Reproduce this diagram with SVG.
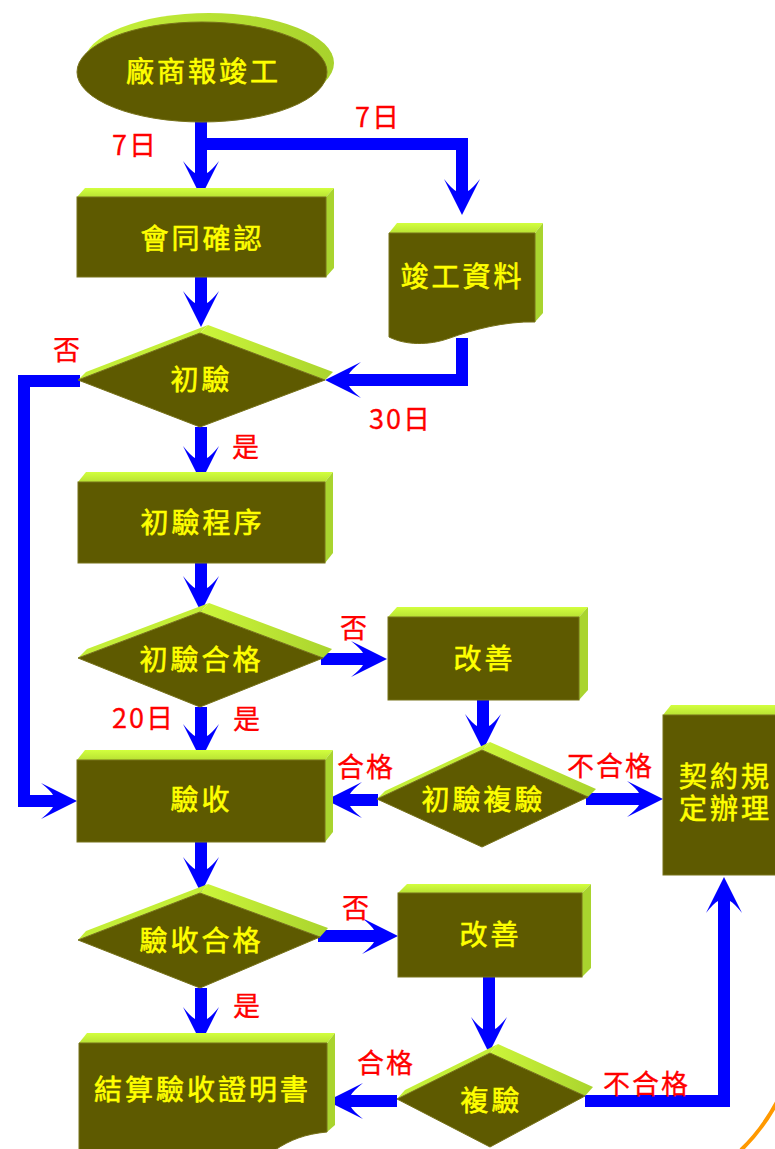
<svg xmlns="http://www.w3.org/2000/svg" width="775" height="1149" viewBox="0 0 775 1149">
<style>
.front{fill:#5E5A00;stroke:#77721A;stroke-width:1}
.top{fill:url(#gTop)}
.side{fill:#A9D42E}
.dtl{fill:#C4EE38}
.dtr{fill:url(#gTR)}
.t{font-family:"Noto Sans CJK TC","Noto Sans CJK SC",sans-serif;font-size:28px;font-weight:400;letter-spacing:3px;fill:#FFFF00;stroke:#FFFF00;stroke-width:0.6px;text-anchor:middle}
.r{font-family:"Noto Sans CJK TC","Noto Sans CJK SC",sans-serif;font-size:27px;font-weight:400;letter-spacing:2px;fill:#FF0000;stroke:#FF0000;stroke-width:0.3px}
.c{fill:none;stroke:#0000FF;stroke-width:12;stroke-linejoin:miter;marker-end:url(#ah)}
</style>
<defs>
<linearGradient id="gTop" x1="0" y1="0" x2="0" y2="1">
<stop offset="0" stop-color="#D2FF3E"/>
<stop offset="1" stop-color="#B9E233"/>
</linearGradient>
<linearGradient id="gTR" x1="0" y1="0" x2="1" y2="0">
<stop offset="0" stop-color="#CCF53A"/>
<stop offset="1" stop-color="#AAD42E"/>
</linearGradient>
<linearGradient id="gEl" x1="0" y1="0" x2="1" y2="0">
<stop offset="0" stop-color="#C8F23A"/>
<stop offset="1" stop-color="#A8D22C"/>
</linearGradient>
<marker id="ah" markerUnits="userSpaceOnUse" viewBox="0 -20 40 40" markerWidth="40" markerHeight="40" refX="14" refY="0" orient="auto">
<path d="M36,0 L0,-18 Q10,-10 12,-6 L12,6 Q10,10 0,18 Z" fill="#0000FF"/>
</marker>
</defs>

<g id="connectors">
<path class="c" d="M201,105 V175"/>
<path class="c" d="M195,144 H462 V193"/>
<path class="c" d="M201,277 V305"/>
<path class="c" d="M462,338 V380 H347"/>
<path class="c" d="M80,381 H24 V801 H55"/>
<path class="c" d="M201,427 V460"/>
<path class="c" d="M201,563 V590"/>
<path class="c" d="M321,659 H365"/>
<path class="c" d="M201,707 V738"/>
<path class="c" d="M483,700 V728"/>
<path class="c" d="M378,800 H348"/>
<path class="c" d="M586,799 H641"/>
<path class="c" d="M201,842 V871"/>
<path class="c" d="M318,936 H376"/>
<path class="c" d="M201,988 V1021"/>
<path class="c" d="M489,977 V1031"/>
<path class="c" d="M397,1101 H349"/>
<path class="c" d="M585,1101 H724 V899"/>
</g>

<g id="n_start">
<ellipse cx="209" cy="63" rx="125" ry="50" fill="url(#gEl)"/>
<ellipse cx="202" cy="72" rx="125" ry="50" class="front"/>
<text class="t" x="203.5" y="82">廠商報竣工</text>
</g>

<g id="n_confirm">
<polygon class="top" points="77,197 85,188 334,188 326,197"/>
<polygon class="side" points="326,197 334,188 334,268 326,277"/>
<rect class="front" x="77" y="197" width="249" height="80"/>
<text class="t" x="202.5" y="249">會同確認</text>
</g>

<g id="n_docs">
<polygon class="top" points="389,233 397,223 543,223 535,233"/>
<polygon class="side" points="535,233 543,223 543,313 535,322"/>
<path class="front" d="M389,233 H535 V322 C505,321 472,330 450,338 C428,346 405,345 389,337 Z"/>
<text class="t" x="462.5" y="287">竣工資料</text>
</g>

<g id="n_inspect">
<polygon class="dtl" points="78,380 200,333 208,325 86,372"/>
<polygon class="dtr" points="200,333 325,380 333,372 208,325"/>
<polygon class="front" points="78,380 200,333 325,380 200,427"/>
<text class="t" x="201.5" y="390">初驗</text>
</g>

<g id="n_procedure">
<polygon class="top" points="78,482 86,472 333,472 325,482"/>
<polygon class="side" points="325,482 333,472 333,553 325,563"/>
<rect class="front" x="78" y="482" width="247" height="81"/>
<text class="t" x="202.5" y="533">初驗程序</text>
</g>

<g id="n_pass1">
<polygon class="dtl" points="78,658 200,612 209,603 87,649"/>
<polygon class="dtr" points="200,612 323,658 332,649 209,603"/>
<polygon class="front" points="78,658 200,612 323,658 200,707"/>
<text class="t" x="201.5" y="670">初驗合格</text>
</g>

<g id="n_improve1">
<polygon class="top" points="388,617 397,607 588,607 579,617"/>
<polygon class="side" points="579,617 588,607 588,690 579,700"/>
<rect class="front" x="388" y="617" width="191" height="83"/>
<text class="t" x="484.5" y="669">改善</text>
</g>

<g id="n_reinspect1">
<polygon class="dtl" points="377,799 482,750 490,742 385,791"/>
<polygon class="dtr" points="482,750 588,797 596,789 490,742"/>
<polygon class="front" points="377,799 482,750 588,797 482,847"/>
<text class="t" x="483.5" y="810">初驗複驗</text>
</g>

<g id="n_acceptance">
<polygon class="top" points="77,760 85,750 333,750 325,760"/>
<polygon class="side" points="325,760 333,750 333,832 325,842"/>
<rect class="front" x="77" y="760" width="248" height="82"/>
<text class="t" x="201.5" y="810">驗收</text>
</g>

<g id="n_contract">
<polygon class="top" points="663,715 671,705 808,705 800,715"/>
<rect class="front" x="663" y="715" width="137" height="160"/>
<text class="t" x="725.5" y="787">契約規<tspan x="725.5" y="819">定辦理</tspan></text>
</g>

<g id="n_pass2">
<polygon class="dtl" points="78,940 200,893 208,884 86,931"/>
<polygon class="dtr" points="200,893 320,937 328,928 208,884"/>
<polygon class="front" points="78,940 200,893 320,937 200,988"/>
<text class="t" x="201.5" y="951">驗收合格</text>
</g>

<g id="n_improve2">
<polygon class="top" points="398,893 407,884 591,884 582,893"/>
<polygon class="side" points="582,893 591,884 591,968 582,977"/>
<rect class="front" x="398" y="893" width="184" height="84"/>
<text class="t" x="490.5" y="945">改善</text>
</g>

<g id="n_reinspect2">
<polygon class="dtl" points="397,1099 490,1053 498,1044 405,1090"/>
<polygon class="dtr" points="490,1053 585,1096 593,1087 498,1044"/>
<polygon class="front" points="397,1099 490,1053 585,1096 490,1147"/>
<text class="t" x="491.5" y="1111">複驗</text>
</g>

<g id="n_certificate">
<polygon class="top" points="79,1043 87,1033 335,1033 327,1043"/>
<polygon class="side" points="327,1043 335,1033 335,1125 327,1132"/>
<path class="front" d="M79,1043 H327 V1132 C305,1134 290,1140 275,1150 H79 Z"/>
<text class="t" x="202.5" y="1100">結算驗收證明書</text>
</g>

<g id="labels">
<text class="r" x="112" y="155">7日</text>
<text class="r" x="355" y="127">7日</text>
<text class="r" x="53" y="360">否</text>
<text class="r" x="369" y="429">30日</text>
<text class="r" x="232" y="457">是</text>
<text class="r" x="340" y="638">否</text>
<text class="r" x="112" y="728">20日</text>
<text class="r" x="233" y="729">是</text>
<text class="r" x="337" y="777">合格</text>
<text class="r" x="567" y="776">不合格</text>
<text class="r" x="342" y="918">否</text>
<text class="r" x="233" y="1016">是</text>
<text class="r" x="357" y="1073">合格</text>
<text class="r" x="603" y="1094">不合格</text>
</g>

<path d="M777,1102 Q762,1130 741,1150" fill="none" stroke="#FF9900" stroke-width="4"/>
</svg>
